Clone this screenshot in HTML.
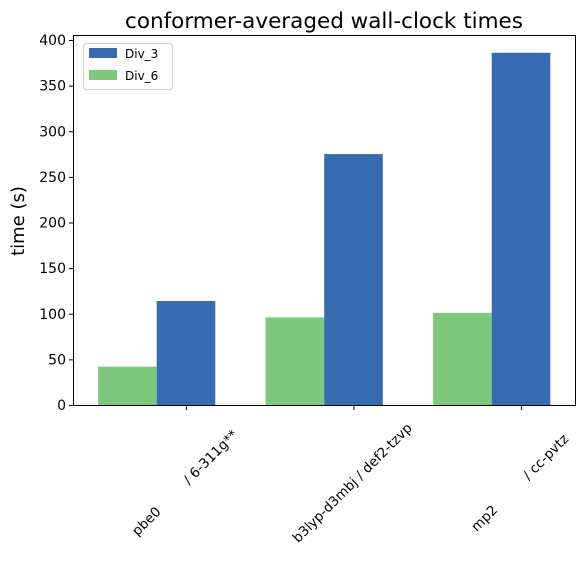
<!DOCTYPE html>
<html><head><meta charset="utf-8"><style>
body{margin:0;background:#fff}
svg{font-family:"DejaVu Sans","Liberation Sans",sans-serif}
</style></head><body>
<svg id="chart" width="585" height="562" viewBox="0 0 585 562" xmlns="http://www.w3.org/2000/svg">
<rect width="585" height="562" fill="#fff"/>
<text x="324" y="28" font-size="21.5" text-anchor="middle">conformer-averaged wall-clock times</text>
<text transform="translate(24,221) rotate(-90)" font-size="18" text-anchor="middle">time (s)</text>
<g id="bars"></g>
<g id="yticks"></g>
<g id="xticks"></g>
<rect x="73.5" y="35.5" width="502" height="370" fill="none" stroke="#000" stroke-width="1"/>
<g>
<rect x="83.5" y="43.5" width="89" height="46" rx="3" fill="#fff" stroke="#ccc"/>
<g><rect x="89" y="48" width="28" height="10" fill="#386cb0"/><text x="125" y="58" font-size="12">Div_3</text></g>
<g><rect x="89" y="70" width="28" height="10" fill="#7fc97f"/><text x="125" y="80" font-size="12">Div_6</text></g>
</g>
</svg>
<script>
const categories = ["pbe0         / 6-311g**", "b3lyp-d3mbj / def2-tzvp", "mp2          / cc-pvtz"];
const div3 = [114, 275, 386];
const div6 = [42, 96, 101];
const yTicks = [0, 50, 100, 150, 200, 250, 300, 350, 400];
const NS = "http://www.w3.org/2000/svg";
const y = v => 405 - v * 0.9125;
const xc = i => 186 + i * 167.5;
const bw = 58.6;
const bars = document.getElementById('bars');
function mk(tag, attrs, parent){const e=document.createElementNS(NS,tag);for(const k in attrs)e.setAttribute(k,attrs[k]);parent.appendChild(e);return e;}
categories.forEach((c,i)=>{
  const g = mk('rect',{x:xc(i)-1.5*bw,y:y(div6[i]),width:bw,height:405-y(div6[i]),fill:'#7fc97f'},bars);
  
  
  const b = mk('rect',{x:xc(i)-0.5*bw,y:y(div3[i]),width:bw,height:405-y(div3[i]),fill:'#386cb0'},bars);
  
  
});
const yt = document.getElementById('yticks');
yTicks.forEach(v=>{
  const l = mk('line',{x1:69,x2:73.5,y1:y(v)+0.5,y2:y(v)+0.5,stroke:'#000'},yt);
  
  
  const t = mk('text',{x:66,y:y(v)+5,'font-size':'14','text-anchor':'end'},yt);
  
  
  t.textContent = v;
});
const xt = document.getElementById('xticks');
categories.forEach((c,i)=>{
  const l = mk('line',{x1:xc(i)+0.5,x2:xc(i)+0.5,y1:405.5,y2:410,stroke:'#000'},xt);
  
  
  const t = mk('text',{transform:`translate(${xc(i)+2},486) rotate(-45)`,'font-size':'13.5','text-anchor':'middle'},xt);
  
  
  t.style.whiteSpace = 'pre';
  t.textContent = c;
});
</script>
</body></html>
